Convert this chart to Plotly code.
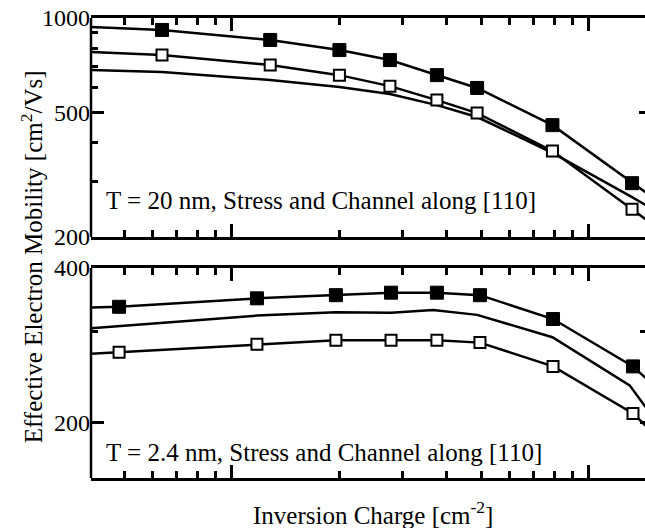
import numpy as np
import plotly.graph_objects as go

# ---------------- data (inversion charge in cm^-2, mobility in cm^2/Vs) ----------------
# Top panel: T = 20 nm
top_x = [6.37e11, 1.28e12, 2.0e12, 2.77e12, 3.75e12, 4.86e12, 7.9e12, 1.32e13]
top_filled = [916, 851, 790, 734, 657, 598, 455, 297]
top_open = [762, 708, 657, 606, 547, 497, 376, 245]
top_line_x = [4.03e11] + top_x + [1.44e13]
top_filled_line = [936] + top_filled + [278]
top_open_line = [779] + top_open + [228]
top_mid_line = [682, 672, 634, 602, 572, 527, 483, 371, 268, 253]

# Bottom panel: T = 2.4 nm
bot_x = [4.83e11, 1.175e12, 1.955e12, 2.79e12, 3.75e12, 4.95e12, 7.93e12, 1.328e13]
bot_filled = [336, 349, 354, 358, 358, 354, 318, 257]
bot_open = [274, 284, 289, 289, 289, 286, 257, 208]
bot_line_x = [4.03e11] + bot_x + [1.44e13]
bot_filled_line = [335] + bot_filled + [244]
bot_open_line = [272] + bot_open + [197]
bot_mid_x = [4.03e11, 1.175e12, 1.955e12, 2.79e12, 3.66e12, 4.86e12, 7.9e12, 1.3e13, 1.44e13]
bot_mid_line = [305, 323, 328, 327, 331, 324, 293, 236, 214]

x_range = [4.03e11, 1.435e13]
x_major = [1e12, 1e13]
x_minor = [5e11, 6e11, 7e11, 8e11, 9e11, 2e12, 3e12, 4e12, 5e12, 6e12, 7e12, 8e12, 9e12]
top_y_range = [200, 1000]
top_y_major = [200, 500, 1000]
top_y_minor = [300, 400, 600, 700, 800, 900]
bot_y_range = [155.6, 400]
bot_y_major = [200, 400]
bot_y_minor = [300]
# ticks whose stubs show at the right edge (the right frame lies just outside the picture)
top_right_ticks = [500]
bot_right_ticks = [200, 300]

top_label = "T = 20 nm, Stress and Channel along [110]"
bot_label = "T = 2.4 nm, Stress and Channel along [110]"
y_title = "Effective Electron Mobility [cm<sup>2</sup>/Vs]"
x_title = "Inversion Charge [cm<sup>-2</sup>]"

FONT = "Liberation Serif, Times New Roman, serif"
LW = 2.5
TOP_DOMAIN = [0.524, 1]
BOT_DOMAIN = [0, 0.4565]

fig = go.Figure()

def add_panel(xa, ya, line_x, filled_line, open_line, mid_x, mid_line, mx, filled, opened):
    for lx, ly in ((line_x, filled_line), (line_x, open_line), (mid_x, mid_line)):
        fig.add_trace(go.Scatter(x=lx, y=ly, mode="lines", xaxis=xa, yaxis=ya,
                                 line=dict(color="black", width=LW), showlegend=False))
    fig.add_trace(go.Scatter(x=mx, y=filled, mode="markers", xaxis=xa, yaxis=ya,
                             marker=dict(symbol="square", size=13, color="black",
                                         line=dict(color="black", width=1)),
                             showlegend=False, cliponaxis=False))
    fig.add_trace(go.Scatter(x=mx, y=opened, mode="markers", xaxis=xa, yaxis=ya,
                             marker=dict(symbol="square", size=11, color="white",
                                         line=dict(color="black", width=2)),
                             showlegend=False, cliponaxis=False))

add_panel("x", "y", top_line_x, top_filled_line, top_open_line, top_line_x, top_mid_line,
          top_x, top_filled, top_open)
add_panel("x2", "y2", bot_line_x, bot_filled_line, bot_open_line, bot_mid_x, bot_mid_line,
          bot_x, bot_filled, bot_open)

# invisible carriers so the right-hand tick axes are drawn
for xa, ya, xv, yv in (("x", "y3", top_x[:1], top_filled[:1]),
                       ("x2", "y4", bot_x[:1], bot_filled[:1])):
    fig.add_trace(go.Scatter(x=xv, y=yv, mode="markers", xaxis=xa, yaxis=ya,
                             marker=dict(opacity=0), hoverinfo="skip", showlegend=False))

common_axis = dict(linewidth=LW, linecolor="black",
                   ticks="inside", ticklen=13, tickwidth=LW, tickcolor="black",
                   showgrid=False, zeroline=False,
                   tickfont=dict(family=FONT, size=24, color="black"))

def minor(vals):
    return dict(tickmode="array", tickvals=vals, ticks="inside", ticklen=7,
                tickwidth=LW, tickcolor="black", showgrid=False)

xr = [np.log10(v) for v in x_range]
top_yr = [np.log10(v) for v in top_y_range]
bot_yr = [np.log10(v) for v in bot_y_range]
fig.update_layout(
    width=645, height=528,
    margin=dict(l=91, r=0, t=18, b=50),
    plot_bgcolor="white", paper_bgcolor="white",
    font=dict(family=FONT, color="black"),
    showlegend=False,
    xaxis=dict(common_axis, showline=True, mirror="ticks", type="log", range=xr,
               domain=[0, 1], anchor="y", tickmode="array", tickvals=x_major,
               showticklabels=False, minor=minor(x_minor)),
    yaxis=dict(common_axis, showline=False, mirror=False, type="log", range=top_yr,
               domain=TOP_DOMAIN, anchor="x", tickmode="array", tickvals=top_y_major,
               ticktext=[str(v) for v in top_y_major], minor=minor(top_y_minor)),
    xaxis2=dict(common_axis, showline=True, mirror="ticks", type="log", range=xr,
                domain=[0, 1], anchor="y2", tickmode="array", tickvals=x_major,
                showticklabels=False, minor=minor(x_minor)),
    yaxis2=dict(common_axis, showline=False, mirror=False, type="log", range=bot_yr,
                domain=BOT_DOMAIN, anchor="x2", tickmode="array", tickvals=bot_y_major,
                ticktext=[str(v) for v in bot_y_major], minor=minor(bot_y_minor)),
    yaxis3=dict(type="log", range=top_yr, overlaying="y", side="right", anchor="x",
                tickmode="array", tickvals=top_right_ticks, ticks="inside", ticklen=6,
                tickwidth=LW, tickcolor="black", showticklabels=False, showline=False,
                showgrid=False, zeroline=False),
    yaxis4=dict(type="log", range=bot_yr, overlaying="y2", side="right", anchor="x2",
                tickmode="array", tickvals=bot_right_ticks, ticks="inside", ticklen=5,
                tickwidth=LW, tickcolor="black", showticklabels=False, showline=False,
                showgrid=False, zeroline=False),
)

# left frame lines
for dom in (TOP_DOMAIN, BOT_DOMAIN):
    fig.add_shape(type="line", xref="paper", yref="paper", x0=0, x1=0, y0=dom[0], y1=dom[1],
                  line=dict(color="black", width=LW))

fig.add_annotation(text=top_label, xref="paper", yref="paper", x=0.024, y=0.604,
                   xanchor="left", yanchor="middle", showarrow=False,
                   font=dict(family=FONT, size=25, color="black"))
fig.add_annotation(text=bot_label, xref="paper", yref="paper", x=0.024, y=0.0565,
                   xanchor="left", yanchor="middle", showarrow=False,
                   font=dict(family=FONT, size=25, color="black"))
fig.add_annotation(text=y_title, xref="paper", yref="paper", x=-0.1065, y=0.482,
                   xanchor="center", yanchor="middle", textangle=-90, showarrow=False,
                   font=dict(family=FONT, size=25, color="black"))
fig.add_annotation(text=x_title, xref="paper", yref="paper", x=0.509, y=-0.075,
                   xanchor="center", yanchor="middle", showarrow=False,
                   font=dict(family=FONT, size=25, color="black"))

fig.write_html("out.html")
